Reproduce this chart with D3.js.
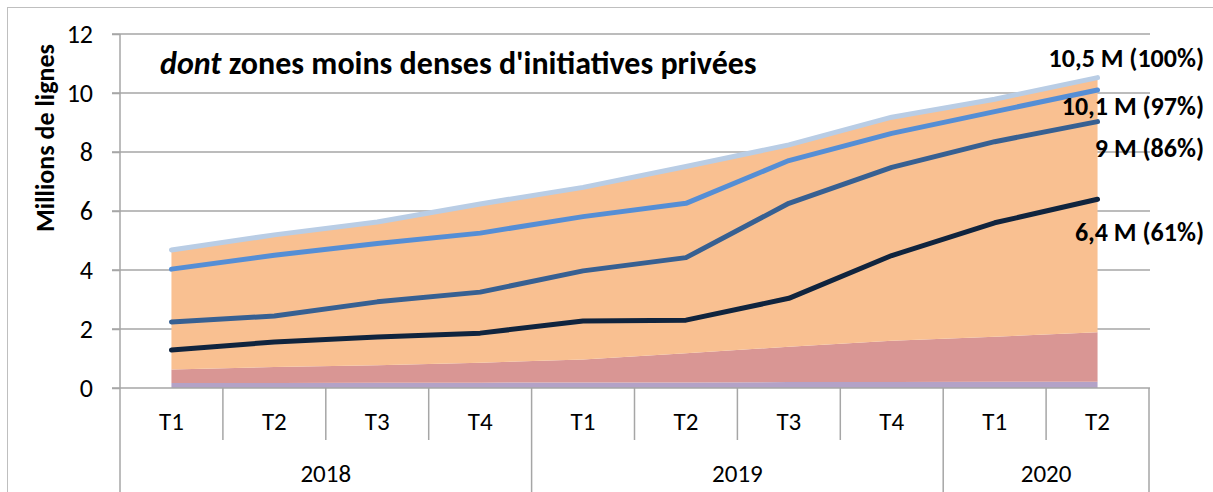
<!DOCTYPE html>
<html>
<head>
<meta charset="utf-8">
<script src="https://cdn.jsdelivr.net/npm/d3@7"></script>
<style>
  html, body { margin: 0; padding: 0; background: #fff; }
  svg { display: block; font-family: Carlito, Calibri, Lato, sans-serif; }
</style>
</head>
<body>
<svg id="chart" width="1213" height="492"></svg>
<script>
// ---- data ----
const quarters = ["T1", "T2", "T3", "T4", "T1", "T2", "T3", "T4", "T1", "T2"];
const years = ["2018", "2018", "2018", "2018", "2019", "2019", "2019", "2019", "2020", "2020"];
const yearLabels = ["2018", "2019", "2020"];
const yTicks = [0, 2, 4, 6, 8, 10, 12];

// stacked area layers (millions of lines)
const layerLavender = [0.17, 0.17, 0.18, 0.18, 0.19, 0.19, 0.20, 0.20, 0.21, 0.21];
const layerPink     = [0.46, 0.54, 0.59, 0.68, 0.78, 0.99, 1.20, 1.40, 1.53, 1.68];
const layerOrange   = [4.05, 4.48, 4.86, 5.38, 5.83, 6.33, 6.84, 7.58, 8.05, 8.63];

// lines
const lineMedium = [4.03, 4.50, 4.90, 5.25, 5.81, 6.26, 7.71, 8.63, 9.37, 10.10];
const lineSlate  = [2.24, 2.44, 2.92, 3.25, 3.97, 4.42, 6.26, 7.48, 8.35, 9.03];
const lineNavy   = [1.29, 1.56, 1.73, 1.86, 2.27, 2.30, 3.04, 4.49, 5.60, 6.40];

const endLabels = ["10,5 M (100%)", "10,1 M (97%)", "9 M (86%)", "6,4 M (61%)"];
const title = "zones moins denses d'initiatives privées";
const titleItalic = "dont";
const yTitle = "Millions de lignes";

// ---- layout ----
const svg = d3.select("#chart");
const pLeft = 120, pRight = 1149, pTop = 34, pBottom = 388;
const gridColor = "#a6a6a6";
const font = "Carlito, Calibri, Lato, sans-serif";

svg.append("rect").attr("x", 7.5).attr("y", 7.5).attr("width", 1220).attr("height", 500)
  .attr("fill", "none").attr("stroke", "#bfbfbf").attr("stroke-width", 1);

const idx = d3.range(quarters.length);
const x = d3.scaleBand().domain(idx).range([pLeft, pRight]).padding(0);
const xc = i => x(i) + x.bandwidth() / 2;
const y = d3.scaleLinear().domain([0, 12]).range([pBottom, pTop]);

// gridlines
svg.append("g").selectAll("line").data(yTicks.filter(t => t > 0)).join("line")
  .attr("x1", pLeft - 8).attr("x2", pRight + 1)
  .attr("y1", d => y(d)).attr("y2", d => y(d))
  .attr("stroke", gridColor).attr("stroke-width", 1.5);

// y axis
const yAxis = d3.axisLeft(y).tickValues(yTicks).tickSize(8).tickPadding(19);
const gy = svg.append("g").attr("transform", `translate(${pLeft},0)`).call(yAxis);
gy.select(".domain").remove();
gy.selectAll(".tick line").attr("stroke", gridColor).attr("stroke-width", 1.5);
gy.selectAll(".tick text").attr("font-family", font).attr("font-size", 26).attr("fill", "#000");

// stacked areas
const table = idx.map(i => ({ i, lav: layerLavender[i], pink: layerPink[i], orange: layerOrange[i] }));
const stack = d3.stack().keys(["lav", "pink", "orange"]);
const series = stack(table);
const colors = { lav: "#b3a2c7", pink: "#d99694", orange: "#f9c091" };
const area = d3.area().x(d => xc(d.data.i)).y0(d => y(d[0])).y1(d => y(d[1]));
svg.append("g").selectAll("path").data(series).join("path")
  .attr("d", area).attr("fill", d => colors[d.key]);

// x axis line
svg.append("line").attr("x1", pLeft - 8).attr("x2", pRight + 1).attr("y1", pBottom).attr("y2", pBottom)
  .attr("stroke", gridColor).attr("stroke-width", 1.5);
// left axis vertical line
svg.append("line").attr("x1", pLeft).attr("x2", pLeft).attr("y1", pTop).attr("y2", 492)
  .attr("stroke", gridColor).attr("stroke-width", 1.5);

// category separators
const yearStart = idx.filter(i => i > 0 && years[i] !== years[i - 1]);
svg.append("g").selectAll("line").data(d3.range(1, quarters.length + 1)).join("line")
  .attr("x1", i => i < quarters.length ? x(i) : pRight)
  .attr("x2", i => i < quarters.length ? x(i) : pRight)
  .attr("y1", pBottom)
  .attr("y2", i => (i === quarters.length || yearStart.includes(i)) ? 492 : 440)
  .attr("stroke", gridColor).attr("stroke-width", 1.5);

// quarter labels
svg.append("g").selectAll("text").data(idx).join("text")
  .attr("x", i => xc(i)).attr("y", 421).attr("text-anchor", "middle").attr("dominant-baseline", "central")
  .attr("font-family", font).attr("font-size", 25).attr("fill", "#000")
  .text(i => quarters[i]);

// year labels
svg.append("g").selectAll("text").data(yearLabels).join("text")
  .attr("x", yr => {
    const ids = idx.filter(i => years[i] === yr);
    return (x(ids[0]) + x(ids[ids.length - 1]) + x.bandwidth()) / 2;
  })
  .attr("y", 473).attr("text-anchor", "middle").attr("dominant-baseline", "central")
  .attr("font-family", font).attr("font-size", 25).attr("fill", "#000")
  .text(d => d);

// lines
const totals = series[2].map(d => d[1]);
const lineGen = d3.line().x((d, i) => xc(i)).y(d => y(d));
const lineDefs = [
  { v: totals, c: "#b9cde5" },
  { v: lineMedium, c: "#558ed5" },
  { v: lineSlate, c: "#376092" },
  { v: lineNavy, c: "#10243e" }
];
svg.append("g").selectAll("path").data(lineDefs).join("path")
  .attr("d", d => lineGen(d.v)).attr("fill", "none").attr("stroke", d => d.c)
  .attr("stroke-width", 5).attr("stroke-linecap", "round").attr("stroke-linejoin", "round");

// end labels
const labelY = [58, 106, 148, 232];
svg.append("g").selectAll("text").data(endLabels).join("text")
  .attr("x", 1204).attr("y", (d, i) => labelY[i]).attr("text-anchor", "end").attr("dominant-baseline", "central")
  .attr("font-family", font).attr("font-size", 26).attr("font-weight", "bold").attr("fill", "#000")
  .text(d => d);

// title
const t = svg.append("text").attr("x", 160).attr("y", 63).attr("dominant-baseline", "central")
  .attr("font-family", font).attr("font-size", 32).attr("font-weight", "bold").attr("fill", "#000");
t.append("tspan").attr("font-style", "italic").text(titleItalic);
t.append("tspan").text(" " + title);

// y title
svg.append("text").attr("transform", "translate(45,138) rotate(-90)")
  .attr("text-anchor", "middle").attr("dominant-baseline", "central")
  .attr("font-family", font).attr("font-size", 26).attr("font-weight", "bold").attr("fill", "#000")
  .text(yTitle);
</script>
</body>
</html>
